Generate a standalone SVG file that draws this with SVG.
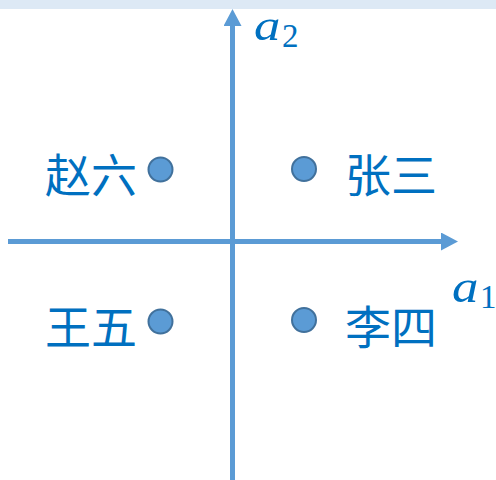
<svg xmlns="http://www.w3.org/2000/svg" width="496" height="480" viewBox="0 0 496 480">
<defs>
<style>
.axis{stroke:#5b9bd5;stroke-width:5;fill:none}
.dot{fill:#5b9bd5;stroke:#41719c;stroke-width:2}
.lbl{font-family:"Noto Sans CJK SC",sans-serif;font-size:46px;fill:#0070c0}
.math{font-family:"Liberation Serif",serif;font-style:italic;fill:#0070c0}
.sub{font-style:normal}
</style>
<marker id="ah" viewBox="0 0 17 18" refX="0" refY="9" markerWidth="17" markerHeight="18" markerUnits="userSpaceOnUse" orient="auto">
<path d="M0,0 L17,9 L0,18 Z" fill="#5b9bd5"/>
</marker>
</defs>
<rect x="0" y="0" width="496" height="9" fill="#dde9f5"/>
<g id="connectors">
<line class="axis" x1="8" y1="241.5" x2="441" y2="241.5" marker-end="url(#ah)"/>
<line class="axis" x1="232.5" y1="480" x2="232.5" y2="26" marker-end="url(#ah)"/>
</g>
<g id="axis-a2"><text class="math" x="254" y="40" font-size="44" transform="translate(254 40) scale(1.2 1) translate(-254 -40)">a</text><text class="math sub" x="282" y="47" font-size="33">2</text></g>
<g id="axis-a1"><text class="math" x="452" y="302" font-size="46" transform="translate(452 302) scale(1.15 1) translate(-452 -302)">a</text><text class="math sub" x="480" y="308" font-size="33">1</text></g>
<g id="zhaoliu"><circle class="dot" cx="160.5" cy="169.5" r="12"/><text class="lbl" x="45" y="192">赵六</text></g>
<g id="zhangsan"><circle class="dot" cx="304" cy="169" r="12"/><text class="lbl" x="345" y="192">张三</text></g>
<g id="wangwu"><circle class="dot" cx="160.5" cy="321.5" r="12"/><text class="lbl" x="45" y="344">王五</text></g>
<g id="lisi"><circle class="dot" cx="304" cy="320" r="12"/><text class="lbl" x="345" y="344">李四</text></g>
</svg>
